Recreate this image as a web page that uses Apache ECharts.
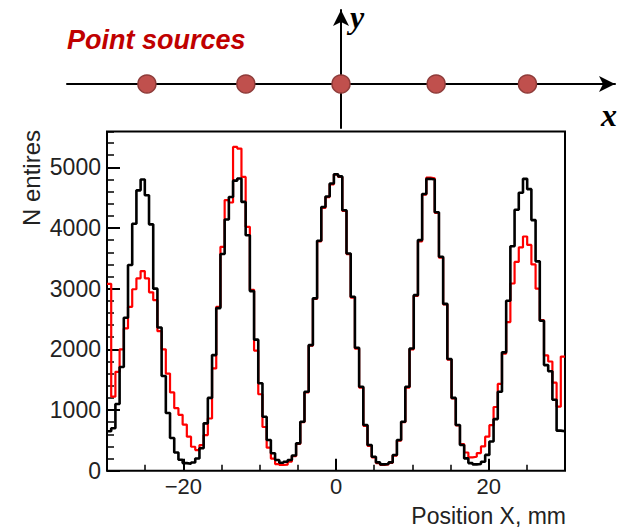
<!DOCTYPE html>
<html>
<head>
<meta charset="utf-8">
<script src="https://cdn.jsdelivr.net/npm/echarts@6/dist/echarts.min.js"></script>
<style>
  html, body { margin: 0; padding: 0; background: #ffffff; }
  #chart { width: 636px; height: 527px; }
</style>
</head>
<body>
<div id="chart"></div>
<script>
// Histogram range (mm) and vertical extent of the frame (entries)
const X_MIN = -30;
const X_MAX = 30;
const Y_MAX = 5590;

// Entries per bin, 109 equal bins from X_MIN to X_MAX
const blackCounts = [
  650, 700, 1100, 1710, 2520, 3390, 4070, 4620, 4800, 4540,
  4060, 3000, 2360, 1560, 950, 540, 300, 180, 125, 115,
  135, 200, 370, 780, 1200, 1905, 2680, 3570, 4140, 4510,
  4780, 4815, 4430, 3880, 2960, 2160, 1440, 890, 506, 287,
  176, 132, 148, 176, 250, 451, 807, 1300, 2070, 2840,
  3790, 4345, 4520, 4733, 4885, 4850, 4293, 3580, 2866, 2026,
  1383, 752, 423, 231, 137, 104, 110, 137, 258, 505,
  807, 1383, 2015, 2893, 3800, 4560, 4810, 4800, 4260, 3525,
  2750, 1840, 1200, 752, 423, 203, 125, 104, 110, 148,
  260, 480, 850, 1300, 1950, 2800, 3700, 4300, 4580, 4810,
  4640, 4130, 3450, 2470, 1740, 1640, 1170, 660, 650
];
const redCounts = [
  3080, 1220, 1630, 2000, 2345, 2700, 2990, 3170, 3290, 3170,
  2940, 2810, 2300, 2000, 1600, 1290, 1030, 920, 760, 560,
  395, 340, 423, 587, 860, 1685, 2700, 3690, 4460, 4420,
  5336, 5309, 4842, 4019, 2980, 1980, 1260, 720, 380, 200,
  110, 95, 100, 150, 240, 440, 800, 1290, 2060, 2830,
  3780, 4330, 4510, 4720, 4880, 4840, 4280, 3570, 2850, 2010,
  1370, 740, 410, 220, 125, 95, 105, 130, 250, 495,
  800, 1370, 2000, 2880, 3780, 4550, 4830, 4820, 4250, 3510,
  2740, 1830, 1190, 745, 440, 300, 220, 230, 290, 400,
  560, 750, 1050, 1430, 1930, 2450, 3085, 3440, 3680, 3860,
  3720, 3400, 3000, 2480, 1900, 1800, 1450, 1055, 1880
];

// Axis labels
const yMajorTicks = [0, 1000, 2000, 3000, 4000, 5000];
const xLabelTicks = [-20, 0, 20];

// Source positions along x in the schematic above the histogram
const sourceX = [-25.5, -12.5, 0, 12.5, 24.5];

// Turn bin contents into the outline of a step histogram
function histogramOutline(counts) {
  const w = (X_MAX - X_MIN) / counts.length;
  const pts = counts.map((c, i) => [X_MIN + i * w, c]);
  pts.push([X_MAX, counts[counts.length - 1]]);
  return pts;
}

const FONT = '"Liberation Sans", Arial, Helvetica, sans-serif';
const SERIF = '"Liberation Serif", "Times New Roman", serif';
const fmtX = v => (v < 0 ? '\u2212' + Math.abs(v) : String(v));

const chart = echarts.init(document.getElementById('chart'), null, { renderer: 'svg' });

chart.setOption({
  animation: false,
  backgroundColor: '#ffffff',
  grid: [
    { left: 107, top: 131.5, width: 458, height: 339.2, show: true,
      borderColor: '#000', borderWidth: 2, backgroundColor: 'transparent' },
    { left: 67, top: 10, width: 548, height: 118, show: false }
  ],
  xAxis: [
    { gridIndex: 0, type: 'value', position: 'bottom', min: X_MIN, max: X_MAX, interval: 5,
      axisLine: { show: false, onZero: false },
      axisTick: { show: true, inside: true, length: 6, lineStyle: { color: '#000', width: 1.5 } },
      axisLabel: { show: false }, splitLine: { show: false } },
    { gridIndex: 0, type: 'value', position: 'bottom', min: X_MIN, max: X_MAX, interval: 10,
      axisLine: { show: false, onZero: false },
      axisTick: { show: true, inside: true, length: 12, customValues: xLabelTicks,
                  lineStyle: { color: '#000', width: 2 } },
      axisLabel: { show: true, customValues: xLabelTicks,
                   formatter: v => (xLabelTicks.includes(v) ? fmtX(v) : ''),
                   fontFamily: FONT, fontSize: 22, color: '#222', margin: 5 },
      splitLine: { show: false } },
    { gridIndex: 1, type: 'value', min: -36, max: 36,
      axisLine: { show: true, onZero: true, symbol: ['none', 'arrow'], symbolSize: [12, 16],
                  lineStyle: { color: '#000', width: 2 } },
      axisTick: { show: false }, axisLabel: { show: false }, splitLine: { show: false } }
  ],
  yAxis: [
    { gridIndex: 0, type: 'value', position: 'left', min: 0, max: Y_MAX, interval: 1000,
      axisLine: { show: false, onZero: false },
      axisTick: { show: true, inside: true, length: 13, customValues: yMajorTicks,
                  lineStyle: { color: '#000', width: 2 } },
      axisLabel: { show: true, customValues: yMajorTicks,
                   formatter: v => (yMajorTicks.includes(v) ? String(v) : ''),
                   fontFamily: FONT, fontSize: 23, color: '#222', margin: 6 },
      splitLine: { show: false } },
    { gridIndex: 0, type: 'value', position: 'left', min: 0, max: Y_MAX, interval: 200,
      axisLine: { show: false, onZero: false },
      axisTick: { show: true, inside: true, length: 7, lineStyle: { color: '#000', width: 1.5 } },
      axisLabel: { show: false }, splitLine: { show: false } },
    { gridIndex: 1, type: 'value', min: -44, max: 74,
      axisLine: { show: true, onZero: true, symbol: ['none', 'arrow'], symbolSize: [12, 16],
                  lineStyle: { color: '#000', width: 2 } },
      axisTick: { show: false }, axisLabel: { show: false }, splitLine: { show: false } }
  ],
  series: [
    { name: 'red', type: 'line', xAxisIndex: 0, yAxisIndex: 0, step: 'end', symbol: 'none',
      data: histogramOutline(redCounts), silent: true, z: 2,
      lineStyle: { color: '#ff0000', width: 2.2 } },
    { name: 'black', type: 'line', xAxisIndex: 0, yAxisIndex: 0, step: 'end', symbol: 'none',
      data: histogramOutline(blackCounts), silent: true, z: 3,
      lineStyle: { color: '#000000', width: 2.6 } },
    { name: 'sources', type: 'scatter', xAxisIndex: 2, yAxisIndex: 2, symbol: 'circle',
      symbolSize: 18, silent: true, z: 5,
      data: sourceX.map(x => [x, 0]),
      itemStyle: { color: '#C0504D', opacity: 1, borderColor: '#8E3B39', borderWidth: 1.5 } }
  ],
  graphic: [
    { type: 'text', x: 67, y: 26, silent: true,
      style: { text: 'Point sources', font: 'italic bold 27px ' + FONT, fill: '#C00000',
               align: 'left', verticalAlign: 'top', textAlign: 'left', textVerticalAlign: 'top' } },
    { type: 'text', x: 350, y: 33, silent: true,
      style: { text: 'y', font: 'italic bold 32px ' + SERIF, fill: '#000',
               align: 'left', verticalAlign: 'bottom', textAlign: 'left', textVerticalAlign: 'bottom' } },
    { type: 'text', x: 601, y: 131, silent: true,
      style: { text: 'x', font: 'italic bold 32px ' + SERIF, fill: '#000',
               align: 'left', verticalAlign: 'bottom', textAlign: 'left', textVerticalAlign: 'bottom' } },
    { type: 'text', x: 31, y: 130, rotation: Math.PI / 2, silent: true,
      style: { text: 'N entires', font: '24px ' + FONT, fill: '#222',
               align: 'right', verticalAlign: 'middle', textAlign: 'right', textVerticalAlign: 'middle' } },
    { type: 'text', x: 566, y: 527, silent: true,
      style: { text: 'Position X, mm', font: '23px ' + FONT, fill: '#222',
               align: 'right', verticalAlign: 'bottom', textAlign: 'right', textVerticalAlign: 'bottom' } }
  ]
});
</script>
</body>
</html>
